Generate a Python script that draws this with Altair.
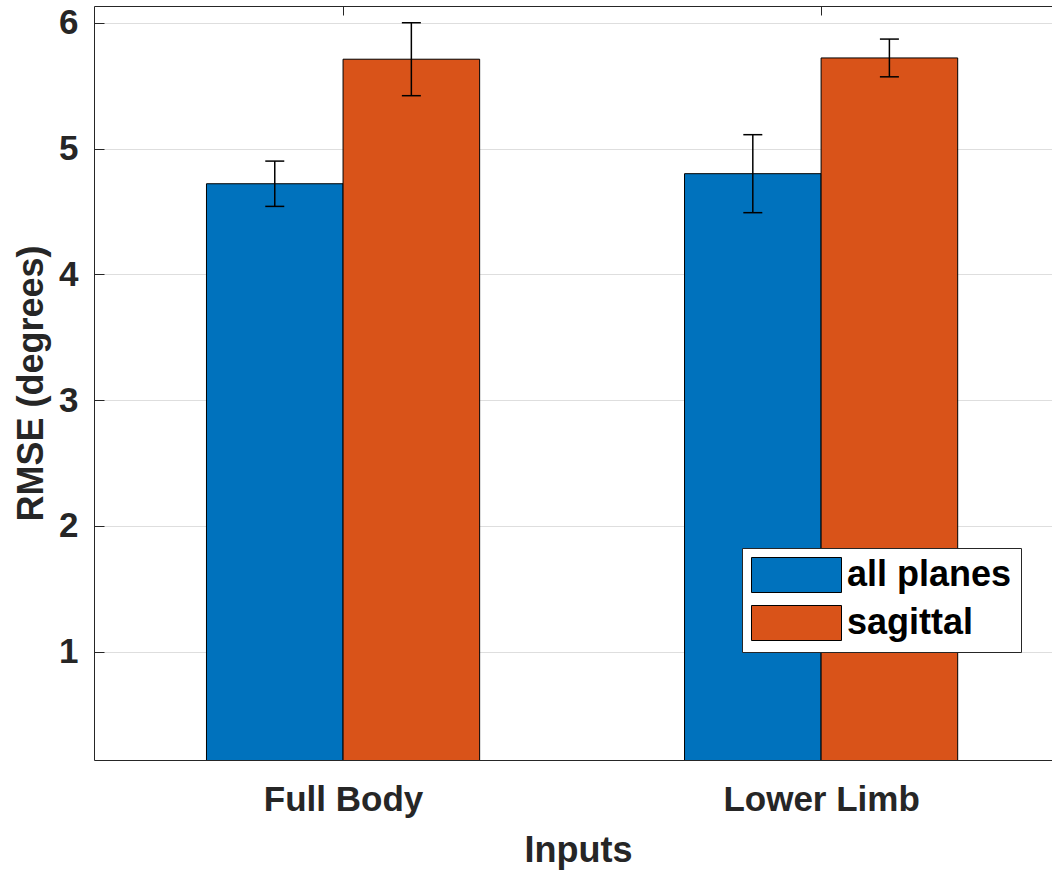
import altair as alt
import pandas as pd

# ---- data -------------------------------------------------------------
groups = ["Full Body", "Lower Limb"]
series = ["all planes", "sagittal"]
rmse_all_planes = [4.72, 4.80]
rmse_sagittal = [5.71, 5.72]
err_all_planes = [0.18, 0.31]
err_sagittal = [0.29, 0.15]
series_colors = ["#0072BD", "#D95319"]
y_ticks = [1, 2, 3, 4, 5, 6]

# ---- layout -----------------------------------------------------------
BAR_W = 2 / 7              # width of one bar in group units
X_DOMAIN = [0.479, 2.483]
Y_DOMAIN = [0.139, 6.133]
W, H = 958, 754
FONT = "Liberation Sans"
INK = "#262626"

rows = []
for gi, g in enumerate(groups):
    for si, (s, vals, errs) in enumerate(
        zip(series, [rmse_all_planes, rmse_sagittal], [err_all_planes, err_sagittal])
    ):
        center = gi + 1 + (si - 0.5) * BAR_W
        rows.append(
            dict(
                group=g,
                series=s,
                center=center,
                left=center - BAR_W / 2,
                right=center + BAR_W / 2,
                rmse=vals[gi],
                lo=vals[gi] - errs[gi],
                hi=vals[gi] + errs[gi],
            )
        )
df = pd.DataFrame(rows)

x_scale = alt.Scale(domain=X_DOMAIN, nice=False, zero=False)
y_scale = alt.Scale(domain=Y_DOMAIN, nice=False, zero=False)

label_expr = "[" + ",".join(f"'{g}'" for g in groups) + "][datum.value - 1]"

# legend swatch: a wide rectangle starting at the symbol's left edge
swatch_path = "M-1,-1H4.143V1H-1Z"

bars = (
    alt.Chart(df)
    .mark_bar(stroke="black", strokeWidth=1, clip=True)
    .encode(
        x=alt.X(
            "left:Q",
            scale=x_scale,
            axis=alt.Axis(
                values=[1, 2],
                labelExpr=label_expr,
                labelLimit=0,
                labelOverlap=False,
                ticks=False,
                tickSize=0,
                grid=False,
                domainColor=INK,
                domainWidth=1,
                labelFont=FONT,
                labelFontSize=35,
                labelFontWeight="bold",
                labelColor=INK,
                labelBaseline="alphabetic",
                labelPadding=50,
                title="Inputs",
                titleFont=FONT,
                titleFontSize=36,
                titleFontWeight="bold",
                titleColor=INK,
                titleX=484,
                titleY=101,
                titleBaseline="alphabetic",
                titleAlign="center",
            ),
        ),
        x2="right:Q",
        y=alt.Y(
            "rmse:Q",
            scale=y_scale,
            axis=alt.Axis(
                values=y_ticks,
                format="d",
                ticks=False,
                tickSize=0,
                grid=True,
                gridColor="#dedede",
                gridWidth=1,
                domainColor=INK,
                domainWidth=1,
                labelFont=FONT,
                labelFontSize=35,
                labelFontWeight="bold",
                labelColor=INK,
                labelPadding=16,
                title="RMSE (degrees)",
                titleFont=FONT,
                titleFontSize=36,
                titleFontWeight="bold",
                titleColor=INK,
                titleX=-63,
                titleY=H / 2,
                titleAlign="center",
                titleBaseline="middle",
                titleAngle=270,
            ),
        ),
        y2=alt.datum(0),
        color=alt.Color(
            "series:N",
            scale=alt.Scale(domain=series, range=series_colors),
            legend=alt.Legend(
                title=None,
                orient="none",
                legendX=648,
                legendY=542,
                fillColor="white",
                strokeColor=INK,
                padding=9,
                symbolType=swatch_path,
                symbolSize=1225,
                symbolStrokeColor="black",
                symbolStrokeWidth=1,
                symbolOpacity=1,
                labelFont=FONT,
                labelFontSize=36,
                labelFontWeight="bold",
                labelColor="black",
                labelLimit=0,
                labelOffset=60,
                rowPadding=8,
            ),
        ),
    )
)

# vertical whiskers; this layer also carries the box's top edge and the
# inward-pointing ticks (top and left)
whiskers = (
    alt.Chart(df)
    .mark_rule(color="black", strokeWidth=1.5)
    .encode(
        x=alt.X(
            "center:Q",
            scale=x_scale,
            axis=alt.Axis(
                orient="bottom",
                offset=-H,
                values=[1, 2],
                labels=False,
                ticks=True,
                tickSize=9,
                tickColor=INK,
                tickWidth=1,
                domain=True,
                domainColor=INK,
                domainWidth=1,
                grid=False,
                title=None,
            ),
        ),
        y=alt.Y(
            "lo:Q",
            scale=y_scale,
            axis=alt.Axis(
                orient="right",
                offset=-W,
                values=y_ticks,
                labels=False,
                ticks=True,
                tickSize=10,
                tickColor=INK,
                tickWidth=1,
                domain=False,
                grid=False,
                title=None,
            ),
        ),
        y2="hi:Q",
    )
)

caps = (
    alt.Chart(df)
    .transform_fold(["lo", "hi"], as_=["end", "val"])
    .mark_tick(orient="horizontal", size=19, thickness=1.5, color="black", opacity=1)
    .encode(
        x=alt.X("center:Q", scale=x_scale, axis=None),
        y=alt.Y("val:Q", scale=y_scale, axis=None),
    )
)

chart = (
    alt.layer(bars, whiskers, caps)
    .resolve_axis(x="independent", y="independent")
    .properties(
        width=W,
        height=H,
        autosize=alt.AutoSizeParams(type="none"),
        padding={"left": 94, "top": 6, "right": 0, "bottom": 113},
        background="white",
    )
    .configure_view(stroke="transparent")
)

chart.save("out.html", embed_options={"renderer": "svg", "actions": False})
